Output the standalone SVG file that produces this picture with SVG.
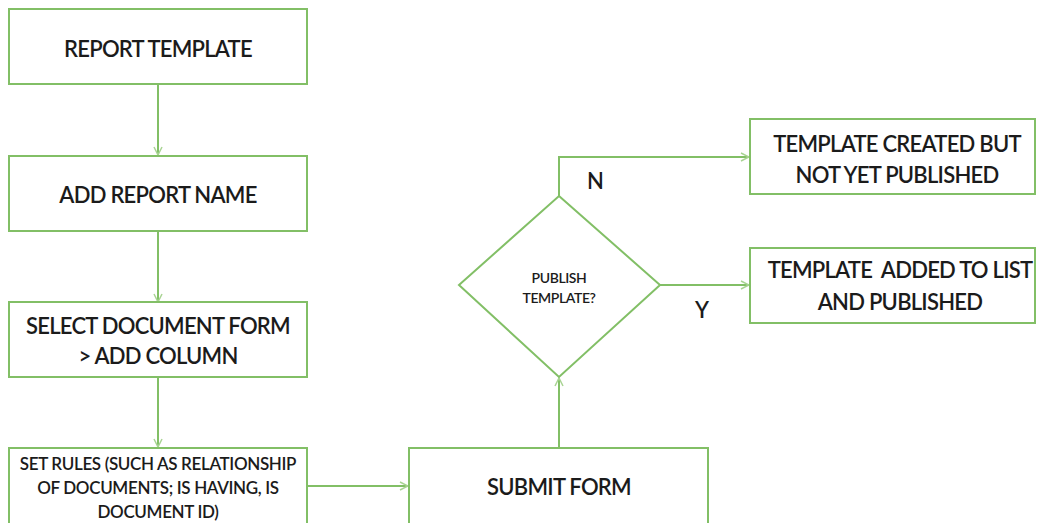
<svg xmlns="http://www.w3.org/2000/svg" width="1041" height="523" viewBox="0 0 1041 523">
  <style>
    .box { fill: #ffffff; stroke: #82bf66; stroke-width: 2; }
    .link { fill: none; stroke: #82bf66; stroke-width: 2; }
    .t { font-family: Lato, "Open Sans", sans-serif; font-weight: 600; fill: #1b1b1b; text-anchor: middle; letter-spacing: -0.75px; }
    .big { font-size: 22px; }
    .mid { font-size: 17px; letter-spacing: -0.35px; }
    .sm { font-size: 14px; letter-spacing: -0.4px; }
    .lbl { font-family: Lato, "Open Sans", sans-serif; font-weight: 600; fill: #1b1b1b; font-size: 22px; }
  </style>
  <defs>
    <marker id="arrow" viewBox="0 0 10 10" refX="9" refY="5" markerWidth="10" markerHeight="10" markerUnits="userSpaceOnUse" orient="auto">
      <polyline points="1,1 9,5 1,9" fill="none" stroke="#a9d494" stroke-width="1.5"/>
    </marker>
  </defs>
  <rect width="1041" height="523" fill="#ffffff"/>

  <!-- connectors -->
  <g id="connectors">
    <line class="link" x1="158" y1="84" x2="158" y2="155" marker-end="url(#arrow)"/>
    <line class="link" x1="158" y1="231" x2="158" y2="302" marker-end="url(#arrow)"/>
    <line class="link" x1="158" y1="377" x2="158" y2="447" marker-end="url(#arrow)"/>
    <line class="link" x1="307" y1="486" x2="408" y2="486" marker-end="url(#arrow)"/>
    <line class="link" x1="559" y1="448" x2="559" y2="378" marker-end="url(#arrow)"/>
    <polyline class="link" points="559,196 559,157 749,157" marker-end="url(#arrow)"/>
    <line class="link" x1="660" y1="285" x2="749" y2="285" marker-end="url(#arrow)"/>
    <text class="lbl" x="587" y="189">N</text>
    <text class="lbl" x="695" y="318">Y</text>
  </g>

  <g id="report-template">
    <rect class="box" x="9" y="9" width="298" height="75"/>
    <text class="t big" x="158" y="57">REPORT TEMPLATE</text>
  </g>

  <g id="add-report-name">
    <rect class="box" x="9" y="156" width="298" height="75"/>
    <text class="t big" x="158" y="203">ADD REPORT NAME</text>
  </g>

  <g id="select-document-form">
    <rect class="box" x="9" y="302" width="298" height="75"/>
    <text class="t big" x="158" y="334">SELECT DOCUMENT FORM</text>
    <text class="t big" x="158" y="364">&gt; ADD COLUMN</text>
  </g>

  <g id="set-rules">
    <rect class="box" x="9" y="448" width="298" height="80"/>
    <text class="t mid" x="158" y="470">SET RULES (SUCH AS RELATIONSHIP</text>
    <text class="t mid" x="158" y="494">OF DOCUMENTS; IS HAVING, IS</text>
    <text class="t mid" x="158" y="518">DOCUMENT ID)</text>
  </g>

  <g id="submit-form">
    <rect class="box" x="409" y="448" width="299" height="80"/>
    <text class="t big" x="559" y="495">SUBMIT FORM</text>
  </g>

  <g id="publish-template">
    <polygon class="box" points="559,196 660,285 559,377 459,285"/>
    <text class="t sm" x="559" y="283">PUBLISH</text>
    <text class="t sm" x="559" y="303">TEMPLATE?</text>
  </g>

  <g id="not-published">
    <rect class="box" x="750" y="119" width="285" height="75"/>
    <text class="t big" x="897" y="152">TEMPLATE CREATED BUT</text>
    <text class="t big" x="897" y="183">NOT YET PUBLISHED</text>
  </g>

  <g id="published">
    <rect class="box" x="750" y="248" width="285" height="75"/>
    <text class="t big" x="900" y="278" xml:space="preserve">TEMPLATE  ADDED TO LIST</text>
    <text class="t big" x="900" y="310">AND PUBLISHED</text>
  </g>
</svg>
